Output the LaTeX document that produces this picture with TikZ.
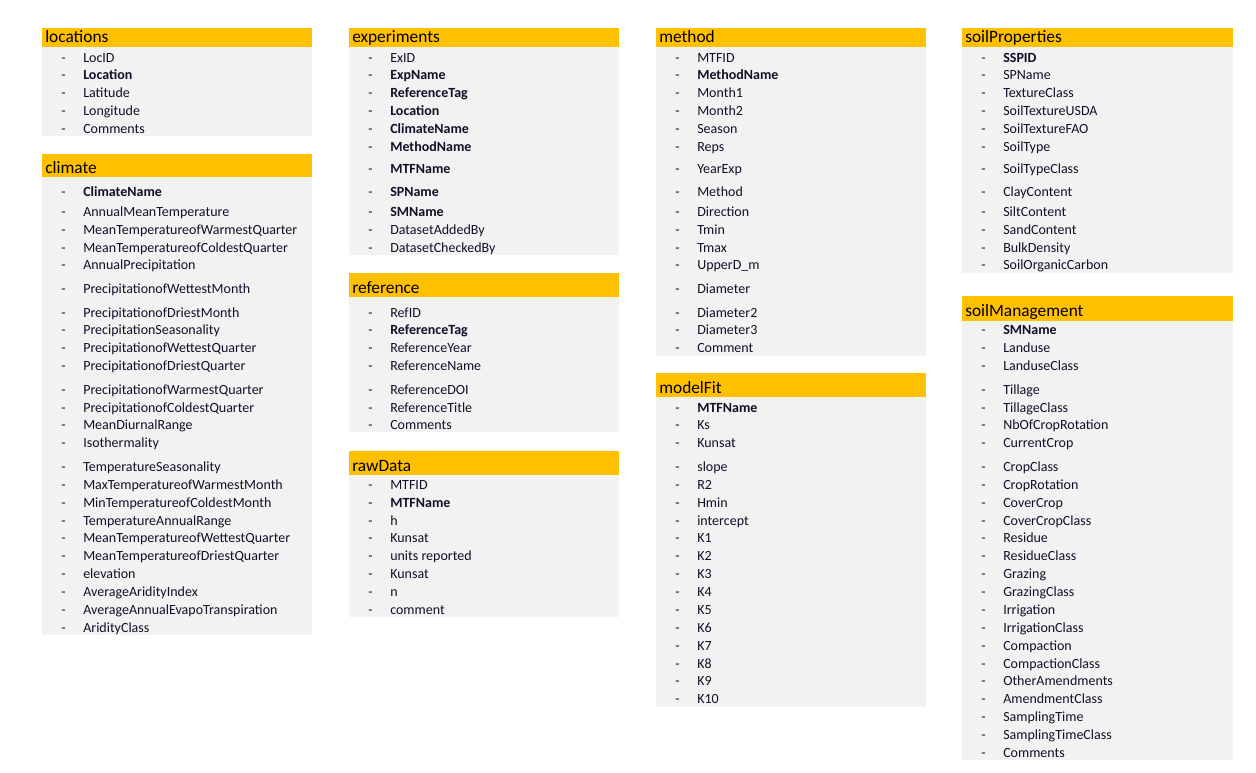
\documentclass[tikz,border=0pt]{standalone}
\usepackage{fontspec}
\setmainfont{Carlito}
\usetikzlibrary{positioning}
\definecolor{headorange}{HTML}{FFC000}
\definecolor{bodygray}{HTML}{F2F2F2}
\definecolor{fieldink}{HTML}{101028}
\tikzset{
  headbar/.style={fill=headorange},
  bodybox/.style={fill=bodygray},
  tabletitle/.style={anchor=base west, inner sep=0pt, font=\fontsize{13}{15}\selectfont},
  fielddash/.style={anchor=base west, inner sep=0pt, text=fieldink, font=\fontsize{10.5}{12}\selectfont},
  fieldname/.style={anchor=base west, inner sep=0pt, text=fieldink, font=\fontsize{10.5}{12}\selectfont},
}
% #1 name, #2 left x, #3 rows y/text
\newcommand{\tablerows}[3]{%
  \foreach \y/\f [count=\i] in {#3}{
    \node[fielddash] (#1-d\i) at (#2+19,\y+5.5) {-};
    \node[fieldname] (#1-\i) at (#2+41,\y+5.5) {\f};
  }}

\begin{document}
\begin{tikzpicture}[x=0.75pt, y=-0.75pt]
\useasboundingbox (0,0) rectangle (1256,772);

% column 1
\fill[headbar] (42,28) rectangle (312,47);
\fill[bodybox] (42,47) rectangle (312,136);
\node[tabletitle] (locations) at (45,42) {locations};
\tablerows{locations}{42}{57/LocID, 74/{\textbf{Location}}, 92/Latitude, 110/Longitude, 128/Comments}

\fill[headbar] (42,154) rectangle (312,177);
\fill[bodybox] (42,177) rectangle (312,635);
\node[tabletitle] (climate) at (45,173) {climate};
\tablerows{climate}{42}{191/{\textbf{ClimateName}}, 211/AnnualMeanTemperature,
  229/MeanTemperatureofWarmestQuarter, 247/MeanTemperatureofColdestQuarter,
  264/AnnualPrecipitation, 288/PrecipitationofWettestMonth,
  312/PrecipitationofDriestMonth, 329/PrecipitationSeasonality,
  347/PrecipitationofWettestQuarter, 365/PrecipitationofDriestQuarter,
  389/PrecipitationofWarmestQuarter, 407/PrecipitationofColdestQuarter,
  424/MeanDiurnalRange, 442/Isothermality, 466/TemperatureSeasonality,
  484/MaxTemperatureofWarmestMonth, 502/MinTemperatureofColdestMonth,
  520/TemperatureAnnualRange, 537/MeanTemperatureofWettestQuarter,
  555/MeanTemperatureofDriestQuarter, 573/elevation, 591/AverageAridityIndex,
  609/AverageAnnualEvapoTranspiration, 627/AridityClass}

% column 2
\fill[headbar] (349,28) rectangle (619,47);
\fill[bodybox] (349,47) rectangle (619,255);
\node[tabletitle] (experiments) at (352,42) {experiments};
\tablerows{experiments}{349}{57/ExID, 74/{\textbf{ExpName}}, 92/{\textbf{ReferenceTag}},
  110/{\textbf{Location}}, 128/{\textbf{ClimateName}}, 146/{\textbf{MethodName}},
  168/{\textbf{MTFName}}, 191/{\textbf{SPName}}, 211/{\textbf{SMName}},
  229/DatasetAddedBy, 247/DatasetCheckedBy}

\fill[headbar] (349,273) rectangle (619,297);
\fill[bodybox] (349,297) rectangle (619,432);
\node[tabletitle] (reference) at (352,293) {reference};
\tablerows{reference}{349}{312/RefID, 329/{\textbf{ReferenceTag}}, 347/ReferenceYear,
  365/ReferenceName, 389/ReferenceDOI, 407/ReferenceTitle, 424/Comments}

\fill[headbar] (349,451) rectangle (619,475);
\fill[bodybox] (349,475) rectangle (619,617);
\node[tabletitle] (rawData) at (352,471) {rawData};
\tablerows{rawData}{349}{484/MTFID, 502/{\textbf{MTFName}}, 520/h, 537/Kunsat,
  555/units reported, 573/Kunsat, 591/n, 609/comment}

% column 3
\fill[headbar] (656,28) rectangle (926,47);
\fill[bodybox] (656,47) rectangle (926,356);
\node[tabletitle] (method) at (659,42) {method};
\tablerows{method}{656}{57/MTFID, 74/{\textbf{MethodName}}, 92/Month1, 110/Month2,
  128/Season, 146/Reps, 168/YearExp, 191/Method, 211/Direction, 229/Tmin,
  247/Tmax, 264/UpperD\_m, 288/Diameter, 312/Diameter2, 329/Diameter3, 347/Comment}

\fill[headbar] (656,373) rectangle (926,397);
\fill[bodybox] (656,397) rectangle (926,707);
\node[tabletitle] (modelFit) at (659,393) {modelFit};
\tablerows{modelFit}{656}{407/{\textbf{MTFName}}, 424/Ks, 442/Kunsat, 466/slope,
  484/R2, 502/Hmin, 520/intercept, 537/K1, 555/K2, 573/K3, 591/K4, 609/K5,
  627/K6, 645/K7, 663/K8, 680/K9, 698/K10}

% column 4
\fill[headbar] (962,28) rectangle (1233,47);
\fill[bodybox] (962,47) rectangle (1233,273);
\node[tabletitle] (soilProperties) at (965,42) {soilProperties};
\tablerows{soilProperties}{962}{57/{\textbf{SSPID}}, 74/SPName, 92/TextureClass,
  110/SoilTextureUSDA, 128/SoilTextureFAO, 146/SoilType, 168/SoilTypeClass,
  191/ClayContent, 211/SiltContent, 229/SandContent, 247/BulkDensity,
  264/SoilOrganicCarbon}

\fill[headbar] (962,296) rectangle (1233,321);
\fill[bodybox] (962,321) rectangle (1233,760);
\node[tabletitle] (soilManagement) at (965,316) {soilManagement};
\tablerows{soilManagement}{962}{329/{\textbf{SMName}}, 347/Landuse, 365/LanduseClass,
  389/Tillage, 407/TillageClass, 424/NbOfCropRotation, 442/CurrentCrop,
  466/CropClass, 484/CropRotation, 502/CoverCrop, 520/CoverCropClass,
  537/Residue, 555/ResidueClass, 573/Grazing, 591/GrazingClass, 609/Irrigation,
  627/IrrigationClass, 645/Compaction, 663/CompactionClass, 680/OtherAmendments,
  698/AmendmentClass, 716/SamplingTime, 734/SamplingTimeClass, 752/Comments}
\end{tikzpicture}
\end{document}
